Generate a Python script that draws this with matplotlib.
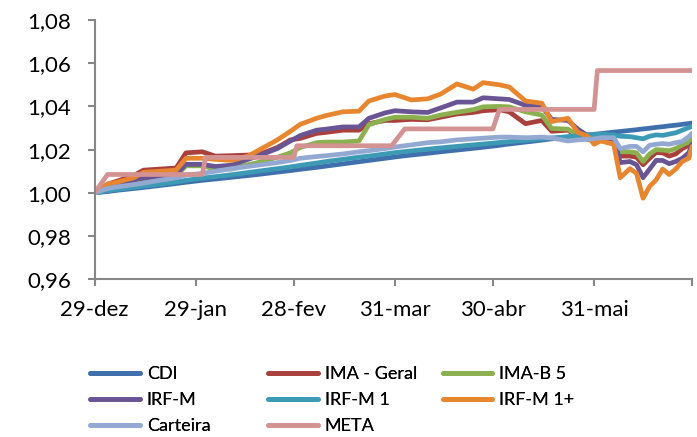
import matplotlib
matplotlib.use('Agg')
import matplotlib.pyplot as plt
import pandas as pd
from matplotlib.ticker import FuncFormatter

plt.rcParams['font.family'] = ['Lato', 'DejaVu Sans']

# sample dates shared by the daily index series
dates = ['2022-12-29', '2023-01-02', '2023-01-05', '2023-01-10', '2023-01-13', '2023-01-18',
         '2023-01-23', '2023-01-26', '2023-01-31', '2023-02-04', '2023-02-09', '2023-02-14',
         '2023-02-17', '2023-02-23', '2023-02-27', '2023-03-02', '2023-03-07', '2023-03-10',
         '2023-03-15', '2023-03-20', '2023-03-23', '2023-03-28', '2023-03-31', '2023-04-05',
         '2023-04-10', '2023-04-14', '2023-04-19', '2023-04-24', '2023-04-27', '2023-05-02',
         '2023-05-05', '2023-05-10', '2023-05-15', '2023-05-18', '2023-05-23', '2023-05-26',
         '2023-05-29', '2023-05-31', '2023-06-02', '2023-06-06', '2023-06-08', '2023-06-11',
         '2023-06-13', '2023-06-15', '2023-06-17', '2023-06-19', '2023-06-21', '2023-06-23',
         '2023-06-25', '2023-06-27', '2023-06-29', '2023-06-30']

cdi = [1.0000, 1.0006, 1.0012, 1.0020, 1.0025, 1.0034, 1.0043, 1.0049, 1.0058, 1.0064,
       1.0072, 1.0080, 1.0085, 1.0096, 1.0103, 1.0109, 1.0118, 1.0124, 1.0134, 1.0144,
       1.0150, 1.0160, 1.0166, 1.0175, 1.0183, 1.0190, 1.0198, 1.0206, 1.0211, 1.0220,
       1.0226, 1.0235, 1.0244, 1.0250, 1.0258, 1.0263, 1.0268, 1.0271, 1.0274, 1.0281,
       1.0284, 1.0289, 1.0292, 1.0296, 1.0299, 1.0303, 1.0306, 1.0310, 1.0313, 1.0317,
       1.0321, 1.0323]

ima_geral = [1.0000, 1.0040, 1.0055, 1.0080, 1.0105, 1.0110, 1.0115, 1.0185, 1.0190, 1.0170,
             1.0172, 1.0175, 1.0175, 1.0210, 1.0245, 1.0252, 1.0275, 1.0280, 1.0290, 1.0290,
             1.0320, 1.0335, 1.0335, 1.0340, 1.0338, 1.0350, 1.0365, 1.0372, 1.0380, 1.0385,
             1.0375, 1.0320, 1.0335, 1.0285, 1.0290, 1.0260, 1.0248, 1.0245, 1.0250, 1.0250,
             1.0170, 1.0170, 1.0165, 1.0130, 1.0160, 1.0187, 1.0185, 1.0170, 1.0180, 1.0205,
             1.0220, 1.0243]

ima_b5 = [1.0000, 1.0020, 1.0030, 1.0048, 1.0058, 1.0068, 1.0078, 1.0125, 1.0125, 1.0110,
          1.0110, 1.0130, 1.0140, 1.0165, 1.0185, 1.0210, 1.0232, 1.0235, 1.0235, 1.0240,
          1.0315, 1.0340, 1.0350, 1.0350, 1.0345, 1.0360, 1.0373, 1.0385, 1.0398, 1.0400,
          1.0398, 1.0375, 1.0360, 1.0298, 1.0295, 1.0265, 1.0250, 1.0248, 1.0255, 1.0255,
          1.0190, 1.0190, 1.0185, 1.0145, 1.0180, 1.0200, 1.0198, 1.0195, 1.0205, 1.0222,
          1.0235, 1.0250]

irf_m = [1.0000, 1.0030, 1.0040, 1.0060, 1.0068, 1.0078, 1.0085, 1.0132, 1.0132, 1.0122,
         1.0128, 1.0155, 1.0170, 1.0205, 1.0240, 1.0265, 1.0290, 1.0295, 1.0305, 1.0305,
         1.0345, 1.0370, 1.0380, 1.0375, 1.0372, 1.0393, 1.0420, 1.0420, 1.0440, 1.0435,
         1.0432, 1.0405, 1.0400, 1.0340, 1.0335, 1.0295, 1.0265, 1.0250, 1.0255, 1.0255,
         1.0140, 1.0145, 1.0130, 1.0070, 1.0110, 1.0150, 1.0150, 1.0135, 1.0145, 1.0160,
         1.0185, 1.0225]

irf_m1 = [1.0000, 1.0010, 1.0016, 1.0025, 1.0031, 1.0040, 1.0050, 1.0058, 1.0068, 1.0075,
          1.0084, 1.0094, 1.0100, 1.0112, 1.0120, 1.0127, 1.0138, 1.0145, 1.0155, 1.0165,
          1.0170, 1.0180, 1.0186, 1.0194, 1.0202, 1.0208, 1.0215, 1.0222, 1.0226, 1.0233,
          1.0237, 1.0243, 1.0250, 1.0254, 1.0260, 1.0264, 1.0268, 1.0270, 1.0272, 1.0268,
          1.0262, 1.0260, 1.0255, 1.0250, 1.0262, 1.0268, 1.0266, 1.0272, 1.0278, 1.0290,
          1.0302, 1.0308]

irf_m1_plus = [1.0000, 1.0040, 1.0050, 1.0070, 1.0095, 1.0100, 1.0105, 1.0160, 1.0160, 1.0155,
               1.0150, 1.0170, 1.0195, 1.0245, 1.0285, 1.0317, 1.0345, 1.0358, 1.0375, 1.0378,
               1.0425, 1.0448, 1.0455, 1.0430, 1.0435, 1.0457, 1.0504, 1.0480, 1.0510, 1.0500,
               1.0490, 1.0425, 1.0415, 1.0330, 1.0345, 1.0280, 1.0262, 1.0225, 1.0240, 1.0225,
               1.0070, 1.0112, 1.0090, 0.9975, 1.0030, 1.0060, 1.0110, 1.0085, 1.0110, 1.0145,
               1.0160, 1.0215]

carteira = [1.0000, 1.0020, 1.0028, 1.0038, 1.0045, 1.0058, 1.0070, 1.0082, 1.0090, 1.0100,
            1.0112, 1.0122, 1.0128, 1.0140, 1.0150, 1.0160, 1.0168, 1.0172, 1.0180, 1.0190,
            1.0195, 1.0205, 1.0212, 1.0222, 1.0232, 1.0236, 1.0245, 1.0250, 1.0253, 1.0258,
            1.0258, 1.0255, 1.0258, 1.0254, 1.0240, 1.0245, 1.0248, 1.0250, 1.0255, 1.0255,
            1.0205, 1.0215, 1.0215, 1.0190, 1.0220, 1.0225, 1.0228, 1.0225, 1.0232, 1.0238,
            1.0260, 1.0275]

# META is a monthly target, so it has its own dates
meta_dates = ['2022-12-29', '2023-01-02', '2023-01-31', '2023-02-01', '2023-02-28', '2023-03-01',
              '2023-03-30', '2023-04-03', '2023-04-30', '2023-05-02', '2023-05-31', '2023-06-01',
              '2023-06-30']
meta = [1.0000, 1.0085, 1.0085, 1.0164, 1.0164, 1.0218, 1.0218, 1.0296, 1.0296, 1.0386,
        1.0386, 1.0566, 1.0566]

tick_dates = ['2022-12-29', '2023-01-29', '2023-02-28', '2023-03-31', '2023-04-30', '2023-05-31', '2023-06-30']
tick_labels = ['29-dez', '29-jan', '28-fev', '31-mar', '30-abr', '31-mai', '']

series = [('CDI', cdi, '#3F6FAD'),
          ('IMA - Geral', ima_geral, '#A9403C'),
          ('IMA-B 5', ima_b5, '#8BB04F'),
          ('IRF-M', irf_m, '#6A5594'),
          ('IRF-M 1', irf_m1, '#3C9AB5'),
          ('IRF-M 1+', irf_m1_plus, '#E8862F'),
          ('Carteira', carteira, '#93A9D2')]

x = pd.to_datetime(dates)

fig = plt.figure(figsize=(6.97, 4.37), dpi=100)
ax = fig.add_axes([0.1356, 0.3609, 0.8573, 0.5934])

handles = []
for name, vals, col in series:
    ln, = ax.plot(x, vals, color=col, lw=3.4, label=name,
                  solid_capstyle='round', solid_joinstyle='round')
    handles.append(ln)
ln, = ax.plot(pd.to_datetime(meta_dates), meta, color='#D49393', lw=3.4, label='META',
              solid_capstyle='round', solid_joinstyle='round')
handles.append(ln)

ax.set_xlim(pd.Timestamp('2022-12-29'), pd.Timestamp('2023-06-30'))
ax.set_ylim(0.96, 1.08)
ax.set_yticks([0.96, 0.98, 1.00, 1.02, 1.04, 1.06, 1.08])
ax.yaxis.set_major_formatter(FuncFormatter(lambda v, p: f'{v:.2f}'.replace('.', ',')))
ax.set_xticks(pd.to_datetime(tick_dates))
ax.set_xticklabels(tick_labels)

for s in ['top', 'right']:
    ax.spines[s].set_visible(False)
for s in ['left', 'bottom']:
    ax.spines[s].set_color('#878787')
    ax.spines[s].set_linewidth(1.5)
ax.tick_params(axis='both', colors='#878787', labelcolor='black', labelsize=16,
               length=5, width=1.5, direction='out')
ax.tick_params(axis='y', pad=12)
ax.tick_params(axis='x', pad=10)

# three legend columns, placed like the Excel legend
cols = [(handles[0::3], 0.1298), (handles[1::3], 0.385), (handles[2::3], 0.635)]
for hs, xpos in cols:
    leg = fig.legend(handles=hs, loc='upper left', bbox_to_anchor=(xpos, 0.162),
                     frameon=False, borderpad=0, borderaxespad=0, fontsize=13,
                     handlelength=2.75, handletextpad=0.37, labelspacing=0.55)
    fig.add_artist(leg)

fig.savefig('out.png', dpi=100)
